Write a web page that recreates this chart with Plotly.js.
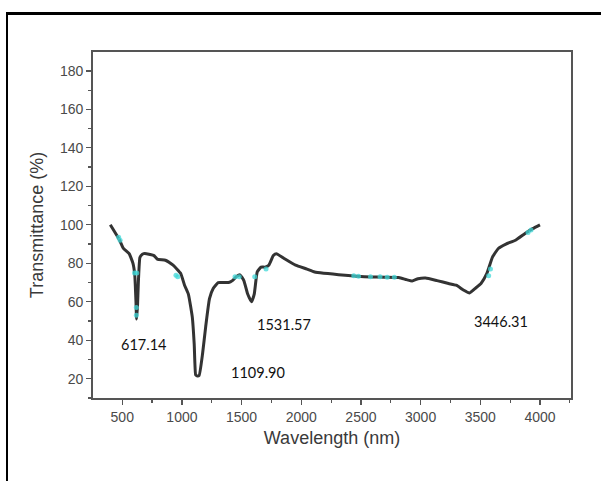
<!DOCTYPE html>
<html>
<head>
<meta charset="utf-8">
<script src="https://cdn.plot.ly/plotly-3.0.1.min.js"></script>
<style>
  html, body { margin: 0; padding: 0; background: #fff; }
  #wrap { position: relative; width: 601px; height: 481px; overflow: hidden; }
  #chart { width: 601px; height: 481px; }
  #frame { position: absolute; left: 6px; top: 12px; width: 620px; height: 500px;
           border-left: 2.5px solid #000; border-top: 3px solid #000; pointer-events: none; }
</style>
</head>
<body>
<div id="wrap">
  <div id="chart"></div>
  <div id="frame"></div>
</div>
<script>
// Spectrum
const wavelength = [400, 478, 510, 558, 590, 605, 615, 620, 628, 635, 648, 665, 680, 702, 766, 798, 862, 926, 990, 1022, 1054, 1087, 1103, 1115, 1125, 1144, 1173, 1199, 1231, 1263, 1304, 1343, 1391, 1423, 1455, 1487, 1519, 1551, 1583, 1606, 1631, 1663, 1696, 1728, 1766, 1792, 1856, 1952, 2048, 2112, 2368, 2529, 2817, 2881, 2929, 2978, 3042, 3138, 3234, 3298, 3362, 3410, 3458, 3506, 3555, 3603, 3651, 3715, 3795, 3875, 3939, 4000];
const transmittance = [100, 92, 87.7, 85, 80, 74, 60, 51, 58, 70, 83, 84.5, 85, 85, 84, 82, 81.6, 79, 74.7, 68.6, 64, 52, 38, 22, 21.5, 21.7, 33, 47, 61.6, 67, 70, 70, 70, 71, 73, 74, 71, 64, 60, 64, 75.5, 78, 78, 79, 84, 85, 82.5, 79, 77, 75.5, 73.8, 73, 72.6, 71.5, 70.8, 72, 72.4, 71, 69.5, 68.6, 66, 64.6, 67, 69.5, 74.7, 83.3, 87.7, 90, 92, 95.5, 98, 100];

// Faint cyan specks visible on the curve in the reference
const speckX = [470, 482, 603, 622, 618, 618, 950, 965, 1445, 1480, 1610, 1705, 2440, 2480, 2580, 2660, 2720, 2780, 3570, 3585, 3900, 3925];
const speckY = [93.5, 92, 75, 75, 57, 53, 73.8, 73, 73, 73, 73, 77, 73.5, 73.3, 73, 73, 72.8, 72.8, 73.5, 77, 96, 97.3];

// Peak labels
const peakLabels = ["617.14", "1109.90", "1531.57", "3446.31"];
const peakLabelX = [682, 1636, 1854, 3672];
const peakLabelY = [38, 23, 48, 49.5];

const axisColor = '#555';
const textColor = '#4a4a4a';

const trace = {
  x: wavelength,
  y: transmittance,
  type: 'scatter',
  mode: 'lines',
  line: { color: '#333', width: 3, shape: 'spline', smoothing: 0.4 },
  hoverinfo: 'skip'
};

const specks = {
  x: speckX,
  y: speckY,
  type: 'scatter',
  mode: 'markers',
  marker: { color: '#40d8d8', size: 5, opacity: 0.75 },
  hoverinfo: 'skip'
};

const annotations = peakLabels.map((t, i) => ({
  x: peakLabelX[i], y: peakLabelY[i], xref: 'x', yref: 'y',
  text: t, showarrow: false,
  font: { family: 'Lato, "Open Sans", sans-serif', size: 14.5, color: '#111' }
}));

const layout = {
  width: 601, height: 481,
  margin: { l: 93, r: 30, t: 52, b: 83 },
  paper_bgcolor: '#fff', plot_bgcolor: '#fff',
  showlegend: false,
  font: { family: '"Liberation Sans", Arial, sans-serif', color: textColor, size: 14 },
  xaxis: {
    range: [255, 4260],
    tick0: 500, dtick: 500,
    ticks: 'outside', ticklen: 5, tickwidth: 1.3, tickcolor: axisColor,
    minor: { dtick: 250, ticks: 'outside', ticklen: 3, tickwidth: 1.2, tickcolor: axisColor, showgrid: false },
    showline: true, linecolor: axisColor, linewidth: 1.8, mirror: true,
    showgrid: false, zeroline: false,
    tickfont: { size: 14, color: textColor },
    title: { text: 'Wavelength (nm)', font: { size: 18, color: '#3a3a3a' }, standoff: 8 }
  },
  yaxis: {
    range: [10, 189.8],
    tick0: 0, dtick: 20,
    ticks: 'outside', ticklen: 5, tickwidth: 1.3, tickcolor: axisColor,
    minor: { dtick: 10, ticks: 'outside', ticklen: 3, tickwidth: 1.2, tickcolor: axisColor, showgrid: false },
    showline: true, linecolor: axisColor, linewidth: 1.8, mirror: true,
    showgrid: false, zeroline: false,
    tickfont: { size: 14, color: textColor },
    title: { text: 'Transmittance (%)', font: { size: 18, color: '#3a3a3a' }, standoff: 12 }
  },
  annotations: annotations
};

Plotly.newPlot('chart', [trace, specks], layout, { displayModeBar: false, staticPlot: true });
</script>
</body>
</html>
